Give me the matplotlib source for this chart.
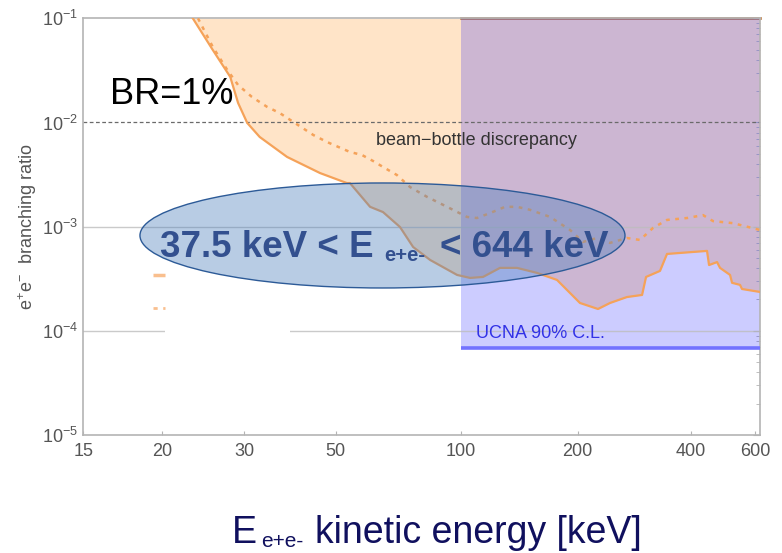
import numpy as np
import matplotlib
matplotlib.use("Agg")
import matplotlib.pyplot as plt
from matplotlib.patches import Ellipse, Rectangle
import matplotlib.ticker as mticker

plt.rcParams['font.family'] = ['Liberation Sans', 'DejaVu Sans']
plt.rcParams['mathtext.fontset'] = 'custom'
plt.rcParams['mathtext.rm'] = 'Liberation Sans'
plt.rcParams['mathtext.it'] = 'Liberation Sans:italic'
plt.rcParams['mathtext.bf'] = 'Liberation Sans:bold'

# ---------------- data ----------------
solid_E = [23.3, 25.7, 28.0, 29.1, 30.5, 32.7, 38.1, 45.8, 53.2, 54.1, 60.5, 65.0,
           71.4, 76.8, 84.4, 98.0, 105.7, 114.1, 126.2, 139.6, 157.1, 176.9, 202.8,
           226.5, 243.8, 270.5, 296.8, 304.1, 331.3, 345.8, 443.3, 449.0, 472.2,
           481.2, 512.6, 519.1, 545.9, 552.8, 619.3]
solid_BR = [0.1, 0.0497, 0.0274, 0.0154, 0.0099, 0.00726, 0.00467, 0.00327, 0.00262,
            0.00262, 0.00155, 0.00138, 0.000993, 0.000638, 0.000479, 0.000344,
            0.000322, 0.000329, 0.000402, 0.000402, 0.000360, 0.000308, 0.000185,
            0.000162, 0.000185, 0.000211, 0.000221, 0.000329, 0.000376, 0.000547,
            0.000585, 0.000428, 0.000457, 0.000402, 0.000344, 0.000289, 0.000276,
            0.000252, 0.000236]

dotted_E = [23.9, 25.7, 27.6, 29.1, 31.3, 34.1, 36.6, 39.8, 44.1, 47.6, 54.1, 57.8,
            61.5, 65.0, 70.2, 75.5, 83.0, 92.7, 103.8, 110.1, 119.0, 130.0, 139.6,
            150.8, 169.8, 191.1, 206.6, 225.1, 243.8, 270.5, 293.1, 317.5, 345.8,
            391.0, 432.3, 460.5, 522.4, 619.3]
dotted_BR = [0.1, 0.0531, 0.0319, 0.0229, 0.0176, 0.0141, 0.0123, 0.00989, 0.00759,
             0.00650, 0.00521, 0.00488, 0.00427, 0.00374, 0.00313, 0.00240, 0.00193,
             0.00155, 0.00124, 0.00121, 0.00135, 0.00155, 0.00155, 0.00145, 0.00124,
             0.000929, 0.000713, 0.000778, 0.000698, 0.000778, 0.000745, 0.000973,
             0.00116, 0.00121, 0.00129, 0.00113, 0.00108, 0.000929]

ucna_E_min = 100.0
ucna_BR_min = 6.85e-5
br_top = 0.1
beam_bottle_BR = 1e-2
grid_BR = [1e-3, 1e-4]

x_ticks = [15, 20, 30, 50, 100, 200, 400, 600]
x_tick_labels = ["15", "20", "30", "50", "100", "200", "400", "600"]
y_ticks = [1e-5, 1e-4, 1e-3, 1e-2, 1e-1]

# ---------------- x-axis scale calibration (non-uniform log axis) ----------------
SCALE_E = [15, 20, 30, 50, 100, 200, 400, 600]
SCALE_FRAC = [0.0, 0.1159, 0.2379, 0.3730, 0.5577, 0.7306, 0.8976, 0.9926]
_LX = np.log10(SCALE_E)
_FR = np.array(SCALE_FRAC)


def _interp_ext(v, xp, fp):
    v = np.atleast_1d(np.asarray(v, dtype=float))
    out = np.interp(v, xp, fp)
    lo = v < xp[0]
    hi = v > xp[-1]
    out[lo] = fp[0] + (v[lo] - xp[0]) * (fp[1] - fp[0]) / (xp[1] - xp[0])
    out[hi] = fp[-1] + (v[hi] - xp[-1]) * (fp[-1] - fp[-2]) / (xp[-1] - xp[-2])
    return out


def fwd(x):
    x = np.asarray(x, dtype=float)
    lx = np.log10(np.clip(x, 1e-6, None))
    return _interp_ext(lx, _LX, _FR).reshape(np.shape(x))


def inv(f):
    f = np.asarray(f, dtype=float)
    return (10 ** _interp_ext(f, _FR, _LX)).reshape(np.shape(f))


x_max = float(inv(1.0))

# ---------------- figure ----------------
fig = plt.figure(figsize=(7.82, 5.53), dpi=100)
ax = fig.add_axes([0.1065, 0.2134, 0.8654, 0.7535])
ax.set_xscale('function', functions=(fwd, inv))
ax.set_yscale('log')
ax.set_xlim(15, x_max)
ax.set_ylim(1e-5, 1e-1)

# orange excluded region
ax.fill_between(solid_E, solid_BR, br_top, color='#ffe4c8', lw=0, zorder=1)
ax.plot([ucna_E_min, x_max], [br_top, br_top], color='#c58a55', lw=2.0,
        zorder=1.5, clip_on=False)
# UCNA region
ax.fill_between([ucna_E_min, x_max], ucna_BR_min, br_top, color='#0000ff',
                alpha=0.2, lw=0, zorder=1.6)
ax.plot([ucna_E_min, x_max], [ucna_BR_min, ucna_BR_min], color='#7272ff', lw=2.6,
        zorder=3, solid_capstyle='butt')

# grid lines
for g in grid_BR:
    ax.axhline(g, color='#bdbdbd', lw=1.0, alpha=0.8, zorder=2)
ax.axhline(beam_bottle_BR, color='#6a6a6a', lw=0.9, ls=(0, (3, 2)), zorder=2.5)

# curves
ax.plot(solid_E, solid_BR, color='#f5a259', lw=1.6, zorder=3)
ax.plot(dotted_E, dotted_BR, color='#f5a259', lw=1.8, ls=(0, (1.5, 2.2)), zorder=3)

# covered legend area
ax.add_patch(Rectangle((0.1207, 0.24), 0.185, 0.19, transform=ax.transAxes,
                       facecolor='white', edgecolor='none', zorder=2.6))
ax.plot([0.103, 0.1207], [0.384, 0.384], transform=ax.transAxes, color='#f9bf8e',
        lw=2.5, zorder=2.7, solid_capstyle='butt')
ax.plot([0.103, 0.1207], [0.305, 0.305], transform=ax.transAxes, color='#f9bf8e',
        lw=2.0, ls=(0, (1.5, 2)), zorder=2.7)

# texts
ax.text(0.0395, 0.795, "BR=1%", transform=ax.transAxes, fontsize=26,
        color='black', va='baseline', ha='left', zorder=6)
ax.text(0.4325, 0.696, "beam\u2212bottle discrepancy", transform=ax.transAxes,
        fontsize=13, color='#333333', va='baseline', ha='left', zorder=6)
ax.text(0.580, 0.233, "UCNA 90% C.L.", transform=ax.transAxes, fontsize=13,
        color='#3232e6', va='baseline', ha='left', zorder=6)

# ellipse annotation
ax.add_patch(Ellipse((0.4421, 0.4788), 0.7167, 0.252, transform=ax.transAxes,
                     facecolor=(79 / 255, 129 / 255, 189 / 255, 0.4),
                     edgecolor='#2c5a97', lw=1.0, zorder=5))
tcol = '#33508f'
t1 = ax.text(0.1135, 0.427, "37.5 keV < E", transform=ax.transAxes, fontsize=26.5,
             fontweight='bold', color=tcol, va='baseline', ha='left', zorder=6)
t2 = ax.annotate("e+e-", xy=(1, 0), xycoords=t1, xytext=(8, 3),
                 textcoords='offset points', fontsize=14.5, fontweight='bold',
                 color=tcol, va='baseline', ha='left', zorder=6)
t3 = ax.annotate("< 644 keV", xy=(1, 0), xycoords=(t2, t1), xytext=(10, 0),
                 textcoords='offset points', fontsize=26.5, fontweight='bold',
                 color=tcol, va='bottom', ha='left', zorder=6)

# axes styling
for s in ax.spines.values():
    s.set_color('#b4b4b4')
    s.set_linewidth(1.2)
    s.set_zorder(2.8)

ax.set_xticks(x_ticks)
ax.set_xticklabels(x_tick_labels)
ax.xaxis.set_minor_locator(mticker.NullLocator())
ax.tick_params(axis='x', which='major', direction='in', length=3, color='#b4b4b4',
               labelsize=13, labelcolor='#555555', pad=6, top=False)
ax.set_yticks(y_ticks)
ax.yaxis.set_minor_locator(mticker.LogLocator(base=10, subs=np.arange(2, 10)))
ax.yaxis.set_minor_formatter(mticker.NullFormatter())
ax.tick_params(axis='y', which='both', direction='in', left=False, right=True,
               color='#b4b4b4', labelsize=13, labelcolor='#555555', pad=4)
ax.tick_params(axis='y', which='major', length=5)
ax.tick_params(axis='y', which='minor', length=3)

ax.set_ylabel("e$^{+}$e$^{-}$  branching ratio", fontsize=13, color='#555555')
ax.yaxis.set_label_coords(-0.066, 0.5)

# bottom label
xl_col = '#10105e'
b1 = fig.text(0.2967, 0.018, "E", fontsize=27, color=xl_col, va='baseline', ha='left')
b2 = plt.annotate("e+e-", xy=(1, 0), xycoords=b1, xytext=(3, 3),
                  textcoords='offset points', fontsize=15, color=xl_col,
                  va='baseline', ha='left', annotation_clip=False)
b3 = plt.annotate("kinetic energy [keV]", xy=(1, 0), xycoords=(b2, b1),
                  xytext=(8, 0), textcoords='offset points', fontsize=27,
                  color=xl_col, va='bottom', ha='left', annotation_clip=False)

fig.savefig("out.png", dpi=100)
